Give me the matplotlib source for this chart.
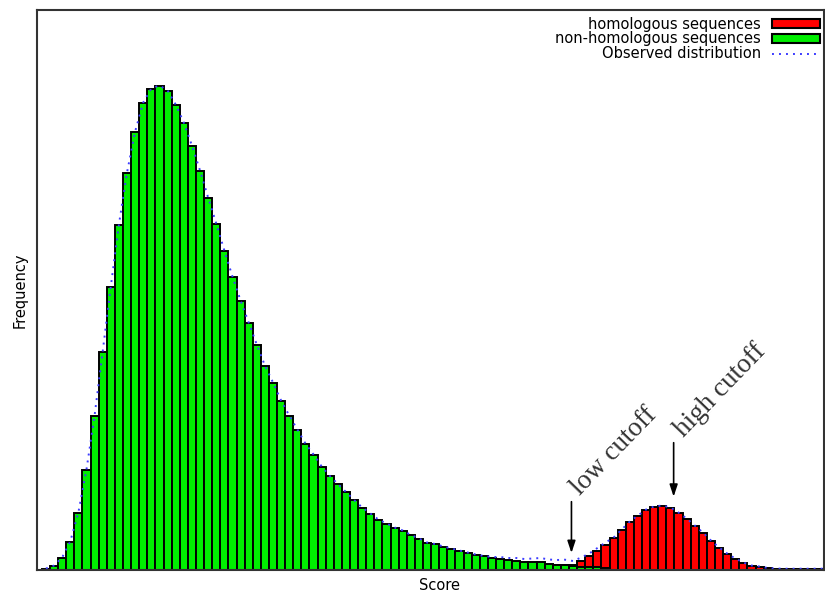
import matplotlib
matplotlib.use('Agg')
import matplotlib.pyplot as plt
import numpy as np
from matplotlib.patches import Patch
from matplotlib.lines import Line2D

# bar heights (arbitrary frequency units), one per score bin
green_counts = [1, 4, 12, 28, 57, 100, 154, 218, 283, 345,
                397, 438, 467, 481, 484, 479, 465, 447, 424, 399,
                372, 346, 319, 293, 269, 247, 225, 204, 187, 169,
                154, 140, 126, 115, 103, 93.5, 85.5, 77.5, 69.5, 62,
                56, 50, 46, 42, 39, 34.5, 31, 27, 25.5, 23,
                21, 19, 17, 15, 13.5, 11.5, 11, 9.5, 9, 7.5,
                7.5, 7.5, 5.5, 5, 5, 3.5, 3, 2.5, 2.5, 2]
red_start = 55
red_counts = [1, 1.5, 2, 2.5, 3, 3.5, 4, 4.5, 4.5, 4.8,
              5, 9, 13.5, 19, 25, 32, 40, 48, 54, 60,
              63, 64, 62, 57, 51, 44, 37, 29, 22, 16,
              11, 7, 4, 3, 1.5, 1, 0.8, 0.8, 0.8, 0.8,
              0.8, 0.8]
n_bins = 97

labels = ['homologous sequences', 'non-homologous sequences', 'Observed distribution']

green = np.zeros(n_bins)
green[:len(green_counts)] = green_counts
red = np.zeros(n_bins)
red[red_start:red_start + len(red_counts)] = red_counts
observed = green + red
bins = np.arange(n_bins)

fig = plt.figure(figsize=(8.25, 5.92), dpi=100)
ax = fig.add_axes([37/825, 22.5/592, (824-37)/825, 560/592])

ax.bar(bins, red, width=1, align='edge', color='#ff0000', edgecolor='black', linewidth=1.4)
ax.bar(bins, green, width=1, align='edge', color='#00ee00', edgecolor='black', linewidth=1.4)
ax.plot(bins + 0.5, observed, color='#3c3cff', lw=1.4, linestyle=(0, (1, 2.6)))

ax.set_xlim(-0.6, 96.44)
ax.set_ylim(0, 560)
ax.set_xticks([])
ax.set_yticks([])
for s in ax.spines.values():
    s.set_color('#333333')
    s.set_linewidth(1.5)

# cutoff annotations
arrow = dict(arrowstyle='-|>,head_length=0.6,head_width=0.2', color='black',
             lw=1.2, mutation_scale=12, shrinkA=0, shrinkB=0)
ax.annotate('', xy=(65.3, 16.5), xytext=(65.3, 67.8), arrowprops=arrow)
ax.annotate('', xy=(77.9, 72.8), xytext=(77.9, 126.8), arrowprops=arrow)
ax.text(64.7, 69.5, 'low cutoff', rotation=46, ha='left', va='bottom',
        fontsize=19.5, family='Liberation Serif', color='#333333')
ax.text(77.4, 127.5, 'high cutoff', rotation=46, ha='left', va='bottom',
        fontsize=19.5, family='Liberation Serif', color='#333333')

handles = [Patch(facecolor='#ff0000', edgecolor='black', linewidth=1.5),
           Patch(facecolor='#00ee00', edgecolor='black', linewidth=1.5),
           Line2D([], [], color='#3c3cff', lw=1.4, linestyle=(0, (1, 2.6)))]
ax.legend(handles, labels, loc='upper right', frameon=False, markerfirst=False,
          bbox_to_anchor=(820/825, (592-16.5)/592), bbox_transform=fig.transFigure,
          borderaxespad=0, borderpad=0, fontsize=10.5, handlelength=3.31,
          handleheight=0.59, handletextpad=0.73, labelspacing=0.0)

fig.text(20/825, 1 - 290/592, 'Frequency', rotation=90, ha='center', va='center', fontsize=10.5)
fig.text(440/825, 1 - 585/592, 'Score', ha='center', va='center', fontsize=10.5)

fig.savefig('out.png', dpi=100)
